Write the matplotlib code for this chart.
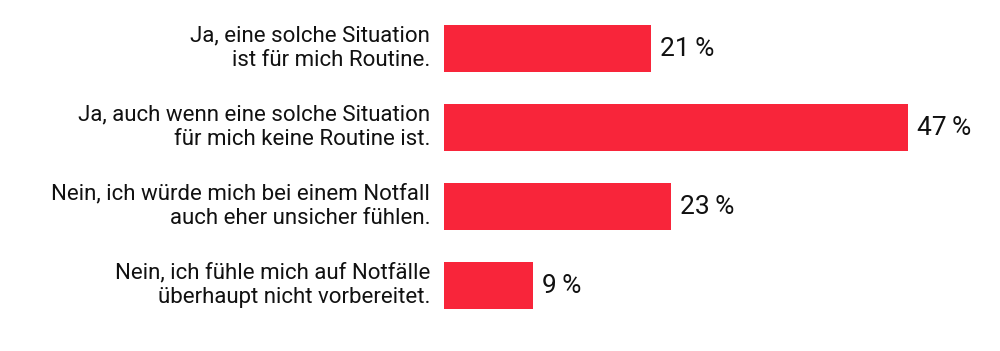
import matplotlib
matplotlib.use("Agg")
import matplotlib.pyplot as plt

plt.rcParams['font.family'] = ['Liberation Sans Narrow', 'Roboto', 'DejaVu Sans']

labels = [
    "Ja, eine solche Situation\nist für mich Routine.",
    "Ja, auch wenn eine solche Situation\nfür mich keine Routine ist.",
    "Nein, ich würde mich bei einem Notfall\nauch eher unsicher fühlen.",
    "Nein, ich fühle mich auf Notfälle\nüberhaupt nicht vorbereitet.",
]
values = [21, 47, 23, 9]

bar_color = "#F8253A"

fig = plt.figure(figsize=(10, 3.51), dpi=100)
ax = fig.add_axes([0.444, 0.0, 0.556, 1.0])

y = list(range(len(values)))
ax.barh(y, values, height=0.6, color=bar_color)

ax.set_xlim(0, 56.33)
ax.set_ylim(3.829, -0.614)

for yi, v, lab in zip(y, values, labels):
    ax.text(v + 0.9, yi, f"{v}\u2009%", va="center", ha="left",
            fontsize=19, color="#111111")
    ax.text(-1.4, yi, lab, va="center", ha="right", fontsize=16,
            color="#111111", linespacing=1.2)

ax.axis("off")

fig.savefig("out.png", dpi=100)
